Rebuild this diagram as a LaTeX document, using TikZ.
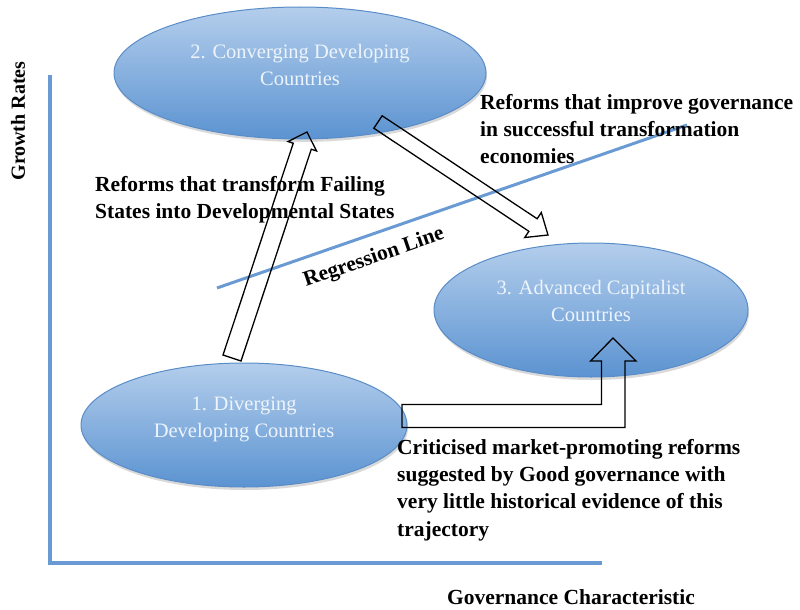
\documentclass[tikz,border=0pt]{standalone}
\usepackage{fontspec}
\setmainfont{Liberation Serif}
\usetikzlibrary{calc,positioning,shapes,shadows}
\definecolor{axblue}{HTML}{6A9AD3}
\definecolor{elledge}{HTML}{5A8DC8}
\definecolor{elltop}{HTML}{B4CEEC}
\definecolor{ellbot}{HTML}{5B93D1}
\definecolor{elltext}{HTML}{EEF4FB}
\newcommand{\blkarrow}[5]{%
  \coordinate (hb) at ($(#2)!#5!(#1)$);
  \draw[blk] ($(#1)!#3!90:(#2)$) -- ($(hb)!#3!90:(#2)$) -- ($(hb)!#4!90:(#2)$) -- (#2)
    -- ($(hb)!#4!-90:(#2)$) -- ($(hb)!#3!-90:(#2)$) -- ($(#1)!#3!-90:(#2)$) -- cycle;}

\begin{document}
\begin{tikzpicture}[x=1pt,y=-1pt,
    ell/.style={ellipse,draw=elledge,line width=1pt,top color=elltop,bottom color=ellbot,
      drop shadow={opacity=.3,shadow xshift=1pt,shadow yshift=-3pt},inner sep=0pt},
    ellt/.style={align=center,text=elltext,inner sep=0pt,font=\fontsize{20.5}{27}\selectfont},
    axis/.style={draw=axblue,line width=4pt},
    blk/.style={draw=black,line width=1.3pt,line join=miter},
    lab/.style={font=\fontsize{21.5}{24}\selectfont\bfseries,inner sep=0pt},
    txt/.style={align=left,anchor=north west,inner sep=0pt,font=\fontsize{21.5}{27.3}\selectfont\bfseries}]
    \useasboundingbox (0,0) rectangle (800,610);

    \coordinate (ytop) at (50,75);
    \coordinate (o) at (50,563);
    \coordinate (xend) at (602,563);
    \draw[axis] (ytop) -- (o) -- (xend);
    \coordinate (r1) at (217,288);
    \coordinate (r2) at (687,125);
    \draw[axblue,line width=3pt] (r1) -- (r2);

    \node[ell,minimum width=372pt,minimum height=132pt] (e2) at (300,73) {};
    \node[ell,minimum width=326pt,minimum height=124pt] (e1) at (244,425) {};
    \node[ell,minimum width=314pt,minimum height=134pt] (e3) at (591,310) {};
    \node[ellt] (e2t) at ($(e2)+(0,-8)$) {2. Converging Developing\\Countries};
    \node[ellt] (e1t) at ($(e1)+(0,-6)$) {1. Diverging\\Developing Countries};
    \node[ellt] (e3t) at ($(e3)+(0,-9)$) {3. Advanced Capitalist\\Countries};

    \node[lab,rotate=90,font=\fontsize{20}{24}\selectfont\bfseries] (ylab) at (18,121) {Growth Rates};
    \node[lab] (xlab) at (571,597) {Governance Characteristic};
    \node[lab,rotate=19] (rlab) at (374,258) {Regression Line};

    \node[txt] (t1) at (95,176) {Reforms that transform Failing\\States into Developmental States};
    \node[txt] (t2) at (480,94) {Reforms that improve governance\\in successful transformation\\economies};
    \node[txt] (t3) at (397,439) {Criticised market-promoting reforms\\suggested by Good governance with\\very little historical evidence of this\\trajectory};

    \coordinate (a1s) at (232,358);
    \coordinate (a1e) at (307,132);
    \blkarrow{a1s}{a1e}{9.5pt}{15pt}{15pt}
    \coordinate (a2s) at (378,122);
    \coordinate (a2e) at (548,235);
    \blkarrow{a2s}{a2e}{7.5pt}{15pt}{18pt}

    \coordinate (a3s) at (402,416);
    \coordinate (a3e) at (613,338);
    \draw[blk] ($(a3s)+(0,-11.5)$) -| ($(a3e)+(-11.5,23)$) -- ++(-11,0) -- (a3e)
      -- ($(a3e)+(23,23)$) -- ++(-11,0) |- ($(a3s)+(0,11.5)$) -- cycle;
\end{tikzpicture}
\end{document}
